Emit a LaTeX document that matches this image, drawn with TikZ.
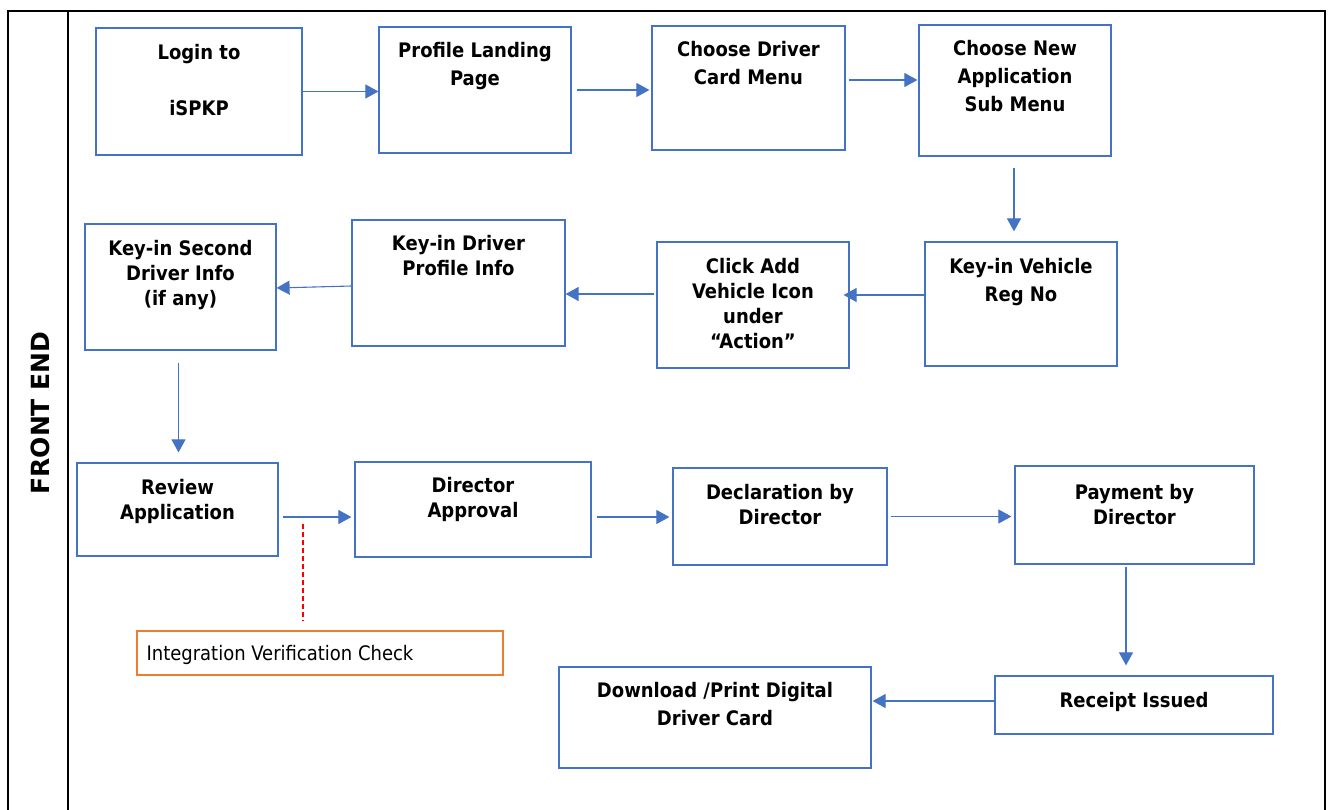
\documentclass[tikz,border=0pt]{standalone}
\usepackage{fontspec}
\newfontfamily\cond{DejaVu Sans Condensed}
\newfontfamily\dvs{DejaVu Sans}
\usetikzlibrary{arrows.meta,calc}
\definecolor{bblue}{HTML}{4472C4}
\definecolor{oorange}{HTML}{ED7D31}
\definecolor{rred}{HTML}{FF0000}
\newcommand\fl{\rule{0pt}{15pt}}
\begin{document}
\begin{tikzpicture}[x=1pt,y=-1pt,
  box/.style={draw=bblue,line width=1.2pt,inner sep=0pt,rectangle},
  obox/.style={draw=oorange,line width=1.3pt,inner sep=0pt,rectangle},
  txt/.style={anchor=north,inner sep=0pt,align=center,font=\cond\bfseries\fontsize{20}{25}\selectfont},
  txtw/.style={anchor=north,inner sep=0pt,align=center,font=\cond\bfseries\fontsize{20}{28}\selectfont},
  arr/.style={draw=bblue,line width=1.1pt,-{Triangle[length=13pt,width=14pt]}},
  dlink/.style={draw=rred,line width=1.3pt,dash pattern=on 5pt off 3pt},
  frame/.style={line width=2pt,black}]
\useasboundingbox (0,0) rectangle (1330,810);
% frame
\draw[frame] (8,812) -- (8,11) -- (1325,11) -- (1325,812);
\draw[frame] (68,11) -- (68,812);
\node[rotate=90,inner sep=0pt,font=\dvs\bfseries\fontsize{25}{28}\selectfont] (fe) at (40,413) {FRONT END};
% boxes
\node[box,minimum width=206pt,minimum height=127pt] (b1) at (199,91.5) {};
\node[box,minimum width=192pt,minimum height=126pt] (b2) at (475,90) {};
\node[box,minimum width=193pt,minimum height=124pt] (b3) at (748.5,88) {};
\node[box,minimum width=192pt,minimum height=131pt] (b4) at (1015,90.5) {};
\node[box,minimum width=192pt,minimum height=124pt] (b5) at (1021,304) {};
\node[box,minimum width=192pt,minimum height=126pt] (b6) at (753,305) {};
\node[box,minimum width=213pt,minimum height=126pt] (b7) at (458.5,283) {};
\node[box,minimum width=191pt,minimum height=126pt] (b8) at (180.5,287) {};
\node[box,minimum width=201pt,minimum height=93pt] (b9) at (177.5,509.5) {};
\node[box,minimum width=236pt,minimum height=95pt] (b10) at (473,509.5) {};
\node[box,minimum width=214pt,minimum height=97pt] (b11) at (780,516.5) {};
\node[box,minimum width=239pt,minimum height=98pt] (b12) at (1134.5,515) {};
\node[box,minimum width=278pt,minimum height=58pt] (b13) at (1134,705) {};
\node[box,minimum width=312pt,minimum height=101pt] (b14) at (715,717.5) {};
\node[obox,minimum width=366pt,minimum height=44pt] (vc) at (320,653) {};
% texts
\node[txt] (t1) at (199,44) {\fl Login to\\[31pt]iSPKP};
\node[txtw] (t2) at (475,42) {\fl Profile Landing\\Page};
\node[txtw] (t3) at (748.5,41) {\fl Choose Driver\\Card Menu};
\node[txtw] (t4) at (1015,40) {\fl Choose New\\Application\\Sub Menu};
\node[txtw] (t5) at (1021,258) {\fl Key-in Vehicle\\Reg No};
\node[txt] (t6) at (753,258) {\fl Click Add\\Vehicle Icon\\under\\“Action”};
\node[txt] (t7) at (458.5,235) {\fl Key-in Driver\\Profile Info};
\node[txt] (t8) at (180.5,240) {\fl Key-in Second\\Driver Info\\(if any)};
\node[txt] (t9) at (177.5,479) {\fl Review\\Application};
\node[txt] (t10) at (473,477) {\fl Director\\Approval};
\node[txt] (t11) at (780,484) {\fl Declaration by\\Director};
\node[txt] (t12) at (1134.5,484) {\fl Payment by\\Director};
\node[txt] (t13) at (1134,692) {\fl Receipt Issued};
\node[txtw] (t14) at (715,682) {\fl Download /Print Digital\\Driver Card};
\node[anchor=west,inner sep=0pt,font=\cond\fontsize{20}{24}\selectfont] (tvc) at ([xshift=10pt,yshift=-2pt]vc.west) {Integration Verification Check};
% arrows
\draw[arr] (b1.east) -- (b1.east -| b2.west);
\draw[arr,shorten <=5pt,shorten >=2pt] (b2.east) -- (b2.east -| b3.west);
\draw[arr,shorten <=3pt,shorten >=1pt] ([yshift=8pt]b3.east) -- ([yshift=8pt]b3.east -| b4.west);
\draw[arr,shorten <=11pt,shorten >=10pt] ([xshift=-1pt]b4.south) -- ([xshift=-1pt]b4.south |- b5.north);
\draw[arr,shorten >=-6pt] ([yshift=9pt]b5.west) -- ([yshift=9pt]b5.west -| b6.east);
\draw[arr,shorten <=2pt] ([yshift=11pt]b6.west) -- ([yshift=11pt]b6.west -| b7.east);
\draw[arr] ([yshift=-3pt]b7.west) -- ([yshift=-1pt]b8.east);
\draw[arr,shorten <=12pt,shorten >=10pt] ([xshift=-2pt]b8.south) -- ([xshift=-2pt]b8.south |- b9.north);
\draw[arr,shorten <=4pt,shorten >=3pt] ([yshift=-7.5pt]b9.east) -- ([yshift=-7.5pt]b9.east -| b10.west);
\draw[arr,shorten <=5pt,shorten >=3pt] ([yshift=-7.5pt]b10.east) -- ([yshift=-7.5pt]b10.east -| b11.west);
\draw[arr,shorten <=3pt,shorten >=3pt] (b11.east) -- (b11.east -| b12.west);
\draw[arr,shorten <=2pt,shorten >=10pt] ([xshift=-8.5pt]b12.south) -- ([xshift=-8.5pt]b12.south |- b13.north);
\draw[arr,shorten >=1pt] ([yshift=4pt]b13.west) -- ([yshift=4pt]b13.west -| b14.east);
% dashed link
\coordinate (dtop) at (303,524);
\draw[dlink,shorten >=9pt] (dtop) -- (dtop |- vc.north);
\end{tikzpicture}
\end{document}
